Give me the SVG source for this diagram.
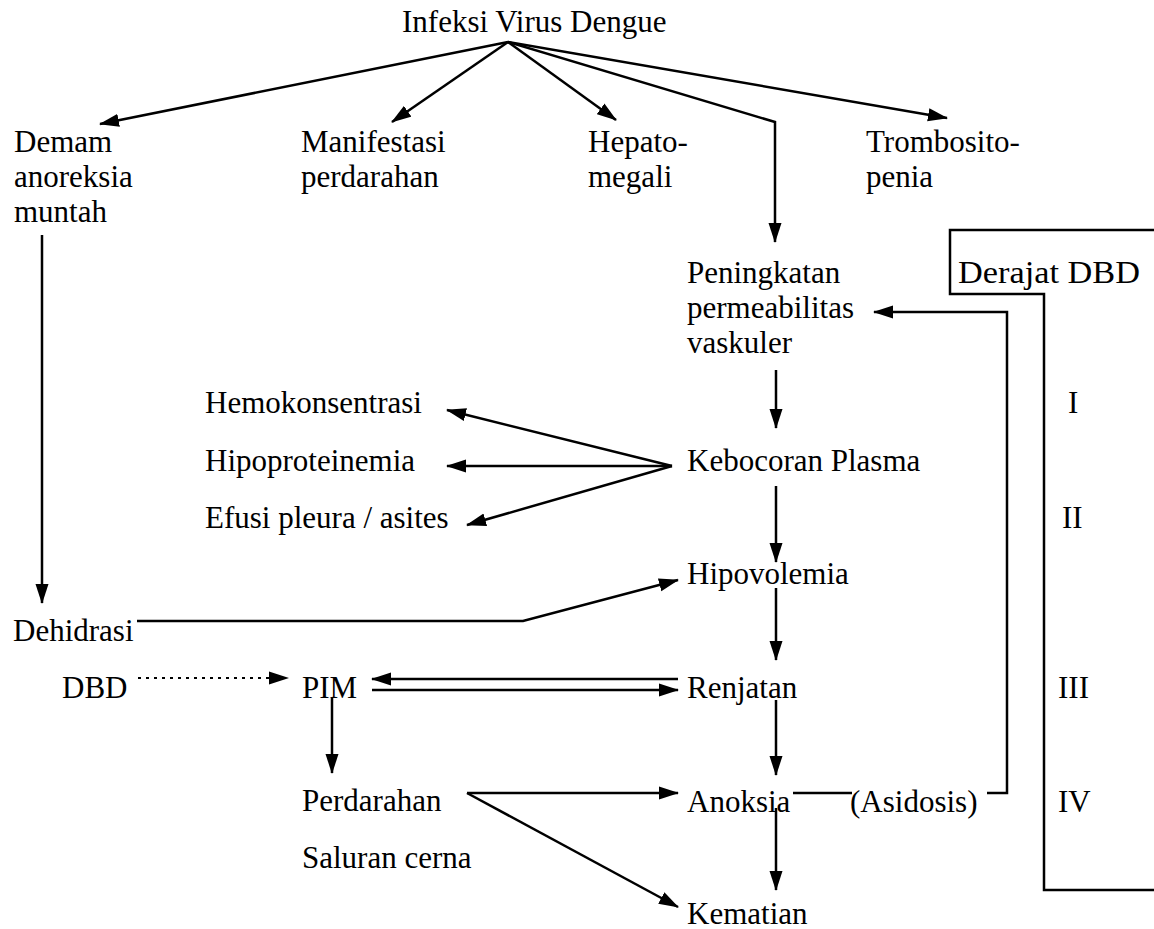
<svg xmlns="http://www.w3.org/2000/svg" width="1154" height="929" viewBox="0 0 1154 929">
<defs>
<marker id="ah" markerUnits="userSpaceOnUse" markerWidth="20" markerHeight="14" refX="19" refY="7" orient="auto">
<path d="M0,0.5 L20,7 L0,13.5 z" fill="#000"/>
</marker>
</defs>
<style>
text { font-family: "Liberation Serif", "Times New Roman", serif; font-size: 31px; fill: #000; }
.c { fill: none; stroke: #000; stroke-width: 2.5; }
.a { marker-end: url(#ah); }
.d { stroke-dasharray: 3 5; stroke-width: 2; }
</style>
<rect width="1154" height="929" fill="#fff"/>
<g id="connectors">
<line class="c a" x1="508" y1="42" x2="100" y2="124"/>
<line class="c a" x1="508" y1="42" x2="392" y2="122"/>
<line class="c a" x1="508" y1="42" x2="616" y2="120"/>
<polyline class="c a" points="508,42 775,122 775,242"/>
<line class="c a" x1="508" y1="42" x2="947" y2="118"/>
<line class="c a" x1="42" y1="235" x2="42" y2="603"/>
<line class="c a" x1="776" y1="370" x2="776" y2="428"/>
<line class="c a" x1="776" y1="486" x2="776" y2="562"/>
<line class="c a" x1="776" y1="588" x2="776" y2="660"/>
<line class="c a" x1="776" y1="700" x2="776" y2="775"/>
<line class="c a" x1="776" y1="808" x2="776" y2="890"/>
<line class="c a" x1="672" y1="466" x2="447" y2="410"/>
<line class="c a" x1="672" y1="466" x2="447" y2="466"/>
<line class="c a" x1="672" y1="466" x2="467" y2="525"/>
<polyline class="c a" points="137,621 523,621 678,580"/>
<line class="c a d" x1="138" y1="678" x2="288" y2="678"/>
<line class="c a" x1="678" y1="679" x2="372" y2="679"/>
<line class="c a" x1="372" y1="690" x2="678" y2="690"/>
<line class="c a" x1="332" y1="698" x2="332" y2="773"/>
<line class="c a" x1="467" y1="793" x2="678" y2="793"/>
<line class="c a" x1="467" y1="793" x2="678" y2="907"/>
<line class="c" x1="793" y1="793" x2="852" y2="793"/>
<polyline class="c a" points="987,793 1007,793 1007,312 874,312"/>
</g>
<g id="derajat-box">
<polyline class="c" points="1154,230 950,230 950,294 1044,294 1044,890 1154,890"/>
<text x="958" y="283" textLength="182" lengthAdjust="spacingAndGlyphs">Derajat DBD</text>
<text x="1068" y="413">I</text>
<text x="1062" y="528">II</text>
<text x="1058" y="698">III</text>
<text x="1058" y="812">IV</text>
</g>
<g id="infeksi"><text x="402" y="32">Infeksi Virus Dengue</text></g>
<g id="demam"><text x="14" y="152">Demam</text><text x="14" y="187">anoreksia</text><text x="14" y="222">muntah</text></g>
<g id="manifestasi"><text x="301" y="152">Manifestasi</text><text x="301" y="187">perdarahan</text></g>
<g id="hepatomegali"><text x="588" y="152">Hepato-</text><text x="588" y="187">megali</text></g>
<g id="trombositopenia"><text x="866" y="152">Trombosito-</text><text x="866" y="187">penia</text></g>
<g id="peningkatan"><text x="687" y="283">Peningkatan</text><text x="687" y="318">permeabilitas</text><text x="687" y="353">vaskuler</text></g>
<g id="hemokonsentrasi"><text x="205" y="413">Hemokonsentrasi</text></g>
<g id="hipoproteinemia"><text x="205" y="471">Hipoproteinemia</text></g>
<g id="efusi"><text x="205" y="528">Efusi pleura / asites</text></g>
<g id="kebocoran"><text x="687" y="471">Kebocoran Plasma</text></g>
<g id="hipovolemia"><text x="687" y="584">Hipovolemia</text></g>
<g id="dehidrasi"><text x="13" y="641">Dehidrasi</text></g>
<g id="dbd"><text x="62" y="698">DBD</text></g>
<g id="pim"><text x="302" y="698">PIM</text></g>
<g id="renjatan"><text x="687" y="698">Renjatan</text></g>
<g id="perdarahan"><text x="302" y="811">Perdarahan</text><text x="302" y="868">Saluran cerna</text></g>
<g id="anoksia"><text x="687" y="812">Anoksia</text></g>
<g id="asidosis"><text x="850" y="812">(Asidosis)</text></g>
<g id="kematian"><text x="687" y="924">Kematian</text></g>
</svg>
